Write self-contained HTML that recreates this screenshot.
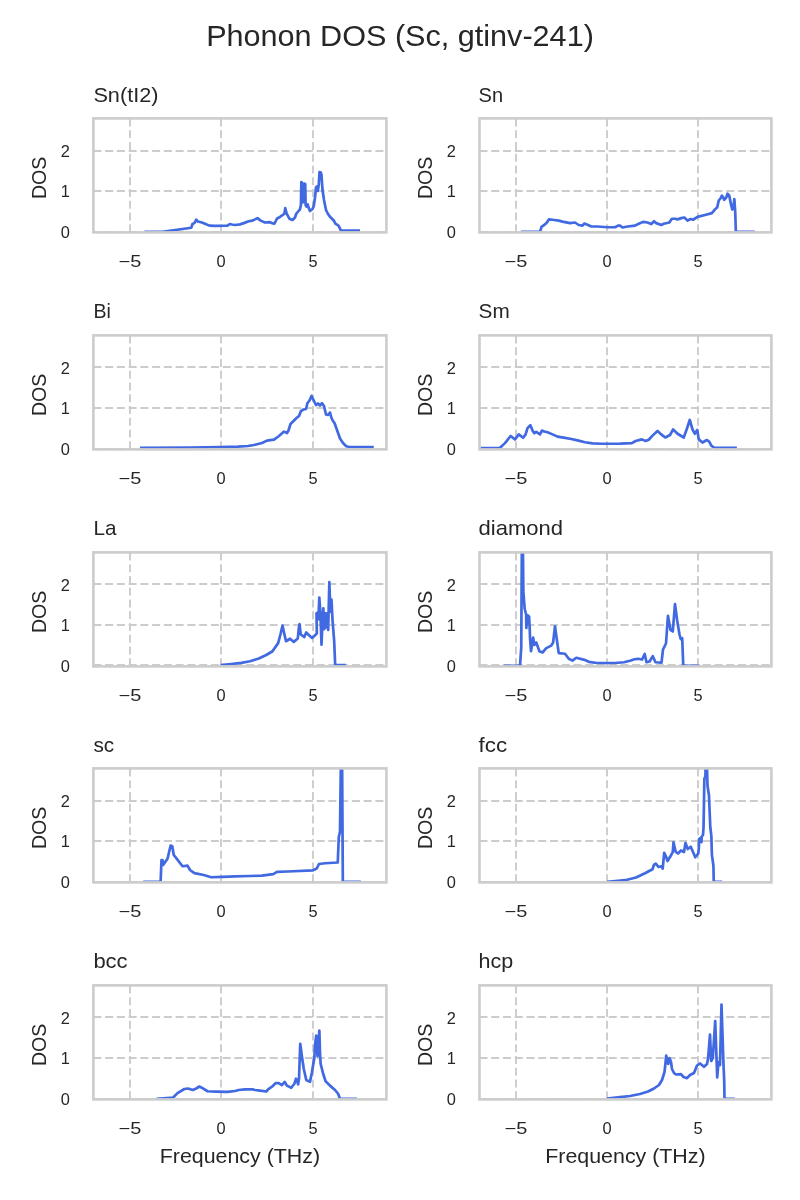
<!DOCTYPE html><html><head><meta charset="utf-8"><style>html,body{margin:0;padding:0;background:#fff;}svg{display:block;will-change:transform;}text{font-family:"Liberation Sans",sans-serif;fill:#262626;}</style></head><body>
<svg width="800" height="1200" viewBox="0 0 800 1200">
<rect width="800" height="1200" fill="#fff"/>
<text x="400" y="45.6" font-size="29.40" text-anchor="middle" textLength="387.7" lengthAdjust="spacingAndGlyphs">Phonon DOS (Sc, gtinv-241)</text>
<g stroke="#cccccc" stroke-width="1.9" stroke-dasharray="8 3.75" fill="none"><line x1="130" y1="118.4" x2="130" y2="232.4"/><line x1="221" y1="118.4" x2="221" y2="232.4"/><line x1="313" y1="118.4" x2="313" y2="232.4"/><line x1="93.4" y1="151" x2="386.4" y2="151"/><line x1="93.4" y1="191" x2="386.4" y2="191"/><line x1="93.4" y1="232" x2="386.4" y2="232"/></g>
<svg x="93.4" y="118.4" width="293" height="114" viewBox="93.4 118.4 293 114" overflow="hidden"><path d="M144.38 231.9 L162.5 231.9 L191.25 227.75 L192.5 224 L194.38 223.12 L196.25 219.75 L197.75 221.5 L201.88 222.5 L205 223.75 L209.38 225.62 L215 225.88 L227.5 225.62 L229.75 224 L231.88 224.5 L235 225 L240 224.38 L243.75 223.12 L248.75 221.25 L252.5 220.62 L257.5 218.12 L260.62 220.62 L265 222.5 L270 222.12 L271.88 223.12 L274.38 223.75 L276.88 218.75 L280 216.88 L284.38 213.75 L285.25 208.12 L286.5 213.12 L289.38 218.75 L292.5 220 L295 217.5 L296.25 213.75 L299.38 210 L299.75 210 L300.9 205 L301.35 182 L302 182.5 L302.4 202.5 L303.25 202 L304.5 183.5 L305.25 184 L305.6 205 L306.5 206.5 L307.75 204.5 L308.75 208 L310 211 L312.5 209 L313.75 206 L315 197.5 L316 187.5 L317 186.5 L317.75 191 L318.75 185 L319.5 172 L320.75 172.5 L321.5 175 L322.5 190 L324 200 L325 205 L326 210 L328 214 L330 216.75 L333.75 220.5 L335.62 223.88 L338.25 225.38 L339.75 228 L340.88 230.62 L360 230.62" fill="none" stroke="#4169e1" stroke-width="2.7" stroke-linejoin="round" stroke-linecap="butt"/></svg>
<rect x="93.4" y="118.4" width="293" height="114" fill="none" stroke="#cccccc" stroke-width="2.6"/>
<text x="93.4" y="101.8" font-size="20.40" textLength="65.1" lengthAdjust="spacingAndGlyphs">Sn(tI2)</text>
<text transform="translate(46.1 177.9) rotate(-90)" x="0" y="0" font-size="20.40" text-anchor="middle" textLength="42.3" lengthAdjust="spacingAndGlyphs">DOS</text>
<text x="69.8" y="238" font-size="16.40" text-anchor="end">0</text>
<text x="69.8" y="197.28" font-size="16.40" text-anchor="end">1</text>
<text x="69.8" y="156.56" font-size="16.40" text-anchor="end">2</text>
<text x="130" y="266.7" font-size="16.40" text-anchor="middle" textLength="22.8" lengthAdjust="spacingAndGlyphs">−5</text>
<text x="221" y="266.7" font-size="16.40" text-anchor="middle">0</text>
<text x="313" y="266.7" font-size="16.40" text-anchor="middle">5</text>
<g stroke="#cccccc" stroke-width="1.9" stroke-dasharray="8 3.75" fill="none"><line x1="516" y1="118.4" x2="516" y2="232.4"/><line x1="607" y1="118.4" x2="607" y2="232.4"/><line x1="698" y1="118.4" x2="698" y2="232.4"/><line x1="479.5" y1="151" x2="771.4" y2="151"/><line x1="479.5" y1="191" x2="771.4" y2="191"/><line x1="479.5" y1="232" x2="771.4" y2="232"/></g>
<svg x="479.5" y="118.4" width="291.9" height="114" viewBox="479.5 118.4 291.9 114" overflow="hidden"><path d="M520.94 231.9 L540 231.9 L541.5 226.88 L545 224.38 L546.88 222.5 L549 219.38 L552.5 219.75 L558.75 220.62 L562.5 221.62 L570 223.12 L575 222.5 L578.75 225 L582.5 225.62 L584.38 223.5 L587.5 224.75 L591.25 226.5 L597.5 226.5 L607.5 227.25 L615 227.25 L618.12 225.62 L620 225.62 L622.5 227.5 L627.5 226.5 L635 225.62 L638.75 223.75 L643.12 221.88 L647.5 222.5 L651.25 224.12 L654 221.25 L656.25 223.12 L661.25 225 L663.75 223.75 L669.38 222.5 L671.88 218.75 L675 218.75 L677.5 219.38 L681.25 218.12 L684.38 217.5 L687.5 220.62 L690.62 219 L693.12 219.75 L697.5 216.88 L705 215 L711.88 213.12 L715 209.38 L717.25 207.25 L718.75 200.5 L720.62 198.25 L721.9 195.62 L723.25 197.5 L724.15 199.75 L726.25 197.5 L727.6 193.75 L729.25 195.62 L731.12 205 L732.25 209.5 L733.38 207.25 L734.35 199 L735.25 212.5 L735.85 231.9 L754.75 231.9" fill="none" stroke="#4169e1" stroke-width="2.7" stroke-linejoin="round" stroke-linecap="butt"/></svg>
<rect x="479.5" y="118.4" width="291.9" height="114" fill="none" stroke="#cccccc" stroke-width="2.6"/>
<text x="478.6" y="101.8" font-size="20.40" textLength="24.5" lengthAdjust="spacingAndGlyphs">Sn</text>
<text transform="translate(432.2 177.9) rotate(-90)" x="0" y="0" font-size="20.40" text-anchor="middle" textLength="42.3" lengthAdjust="spacingAndGlyphs">DOS</text>
<text x="455.9" y="238" font-size="16.40" text-anchor="end">0</text>
<text x="455.9" y="197.28" font-size="16.40" text-anchor="end">1</text>
<text x="455.9" y="156.56" font-size="16.40" text-anchor="end">2</text>
<text x="516" y="266.7" font-size="16.40" text-anchor="middle" textLength="22.8" lengthAdjust="spacingAndGlyphs">−5</text>
<text x="607" y="266.7" font-size="16.40" text-anchor="middle">0</text>
<text x="698" y="266.7" font-size="16.40" text-anchor="middle">5</text>
<g stroke="#cccccc" stroke-width="1.9" stroke-dasharray="8 3.75" fill="none"><line x1="130" y1="335.4" x2="130" y2="449.4"/><line x1="221" y1="335.4" x2="221" y2="449.4"/><line x1="313" y1="335.4" x2="313" y2="449.4"/><line x1="93.4" y1="367" x2="386.4" y2="367"/><line x1="93.4" y1="408" x2="386.4" y2="408"/><line x1="93.4" y1="449" x2="386.4" y2="449"/></g>
<svg x="93.4" y="335.4" width="293" height="114" viewBox="93.4 335.4 293 114" overflow="hidden"><path d="M140 447.81 L190 447.6 L220 447 L238 446.6 L248 446 L254 445 L262 443 L267 440.6 L274 439.6 L279 436 L284 431.6 L287 433 L288.5 430.5 L290.5 424 L293 421.5 L296.5 418 L299 416 L301 411 L303.5 409.5 L306 409 L307.5 403 L309.5 400.5 L311.5 396 L313.5 400 L316 405 L318 403.5 L320 405.5 L322 403.2 L324 406 L326 414.5 L328 415 L330 412.5 L331.5 418 L333 421 L334.5 423 L337 430 L340 438.5 L343 443 L346.25 446.25 L349.38 447 L373.75 447.19" fill="none" stroke="#4169e1" stroke-width="2.7" stroke-linejoin="round" stroke-linecap="butt"/></svg>
<rect x="93.4" y="335.4" width="293" height="114" fill="none" stroke="#cccccc" stroke-width="2.6"/>
<text x="93.4" y="317.9" font-size="20.40" textLength="17.4" lengthAdjust="spacingAndGlyphs">Bi</text>
<text transform="translate(46.1 394.9) rotate(-90)" x="0" y="0" font-size="20.40" text-anchor="middle" textLength="42.3" lengthAdjust="spacingAndGlyphs">DOS</text>
<text x="69.8" y="455" font-size="16.40" text-anchor="end">0</text>
<text x="69.8" y="414.28" font-size="16.40" text-anchor="end">1</text>
<text x="69.8" y="373.56" font-size="16.40" text-anchor="end">2</text>
<text x="130" y="483.7" font-size="16.40" text-anchor="middle" textLength="22.8" lengthAdjust="spacingAndGlyphs">−5</text>
<text x="221" y="483.7" font-size="16.40" text-anchor="middle">0</text>
<text x="313" y="483.7" font-size="16.40" text-anchor="middle">5</text>
<g stroke="#cccccc" stroke-width="1.9" stroke-dasharray="8 3.75" fill="none"><line x1="516" y1="335.4" x2="516" y2="449.4"/><line x1="607" y1="335.4" x2="607" y2="449.4"/><line x1="698" y1="335.4" x2="698" y2="449.4"/><line x1="479.5" y1="367" x2="771.4" y2="367"/><line x1="479.5" y1="408" x2="771.4" y2="408"/><line x1="479.5" y1="449" x2="771.4" y2="449"/></g>
<svg x="479.5" y="335.4" width="291.9" height="114" viewBox="479.5 335.4 291.9 114" overflow="hidden"><path d="M480.62 448.12 L500 447.75 L505 443.12 L510.62 436 L515 439.38 L518.75 434.38 L523.12 437.75 L525.62 434.38 L527.5 428.12 L530.38 425.25 L532.5 430.62 L534.38 433.12 L536.25 431.88 L540 434.38 L541.88 430.62 L544.38 431.5 L547.5 432.25 L552.5 434.38 L557.5 436.62 L565 437.88 L571.25 439 L577.5 440.38 L585 442.25 L592.5 443.38 L601.25 443.75 L620 443.62 L631.88 443.12 L635.62 441 L641.88 439.38 L645.62 441 L648.75 439.75 L652.5 435.62 L657.5 431 L661.25 434.38 L665.25 437.5 L670 435 L673.12 429.38 L677.5 433.75 L683.75 437.5 L686.88 428.75 L689.75 420 L692.5 429.38 L694.75 433.75 L697.25 430 L698.75 439.38 L702.5 442.5 L706.88 440 L709.38 441.88 L711.25 445.62 L714.38 447.75 L736.88 447.75" fill="none" stroke="#4169e1" stroke-width="2.7" stroke-linejoin="round" stroke-linecap="butt"/></svg>
<rect x="479.5" y="335.4" width="291.9" height="114" fill="none" stroke="#cccccc" stroke-width="2.6"/>
<text x="478.6" y="317.9" font-size="20.40" textLength="31.1" lengthAdjust="spacingAndGlyphs">Sm</text>
<text transform="translate(432.2 394.9) rotate(-90)" x="0" y="0" font-size="20.40" text-anchor="middle" textLength="42.3" lengthAdjust="spacingAndGlyphs">DOS</text>
<text x="455.9" y="455" font-size="16.40" text-anchor="end">0</text>
<text x="455.9" y="414.28" font-size="16.40" text-anchor="end">1</text>
<text x="455.9" y="373.56" font-size="16.40" text-anchor="end">2</text>
<text x="516" y="483.7" font-size="16.40" text-anchor="middle" textLength="22.8" lengthAdjust="spacingAndGlyphs">−5</text>
<text x="607" y="483.7" font-size="16.40" text-anchor="middle">0</text>
<text x="698" y="483.7" font-size="16.40" text-anchor="middle">5</text>
<g stroke="#cccccc" stroke-width="1.9" stroke-dasharray="8 3.75" fill="none"><line x1="130" y1="552.4" x2="130" y2="666.4"/><line x1="221" y1="552.4" x2="221" y2="666.4"/><line x1="313" y1="552.4" x2="313" y2="666.4"/><line x1="93.4" y1="584" x2="386.4" y2="584"/><line x1="93.4" y1="625" x2="386.4" y2="625"/><line x1="93.4" y1="665" x2="386.4" y2="665"/></g>
<svg x="93.4" y="552.4" width="293" height="114" viewBox="93.4 552.4 293 114" overflow="hidden"><path d="M220.62 665 L231.25 664 L241.25 662.88 L250 661.25 L258.75 658.5 L266.25 655 L272.5 651.25 L278.12 643.12 L280.62 633.75 L282.5 625.62 L284 632.5 L286 641.25 L290 638.75 L293.75 641.88 L297.5 638.75 L297.92 637.5 L298.75 628.33 L299.58 624.17 L300.67 634.17 L304.17 637.08 L306.25 632.5 L308.75 635 L312.08 637.92 L314.58 635.83 L316.83 633.33 L316.5 613.33 L317.67 612.5 L318.33 619.17 L319.33 597.5 L320.42 613.33 L321.5 644.58 L322.5 621.67 L323.33 608.33 L324.17 629.17 L325.17 613.33 L326 627.5 L327.08 613.33 L328.17 630 L329.33 582.08 L330.42 611.67 L331.5 599.58 L332.5 620 L334.17 640.83 L335.17 665 L345.83 665" fill="none" stroke="#4169e1" stroke-width="2.7" stroke-linejoin="round" stroke-linecap="butt"/></svg>
<rect x="93.4" y="552.4" width="293" height="114" fill="none" stroke="#cccccc" stroke-width="2.6"/>
<text x="93.4" y="534.8" font-size="20.40" textLength="23.0" lengthAdjust="spacingAndGlyphs">La</text>
<text transform="translate(46.1 611.9) rotate(-90)" x="0" y="0" font-size="20.40" text-anchor="middle" textLength="42.3" lengthAdjust="spacingAndGlyphs">DOS</text>
<text x="69.8" y="672" font-size="16.40" text-anchor="end">0</text>
<text x="69.8" y="631.28" font-size="16.40" text-anchor="end">1</text>
<text x="69.8" y="590.56" font-size="16.40" text-anchor="end">2</text>
<text x="130" y="700.7" font-size="16.40" text-anchor="middle" textLength="22.8" lengthAdjust="spacingAndGlyphs">−5</text>
<text x="221" y="700.7" font-size="16.40" text-anchor="middle">0</text>
<text x="313" y="700.7" font-size="16.40" text-anchor="middle">5</text>
<g stroke="#cccccc" stroke-width="1.9" stroke-dasharray="8 3.75" fill="none"><line x1="516" y1="552.4" x2="516" y2="666.4"/><line x1="607" y1="552.4" x2="607" y2="666.4"/><line x1="698" y1="552.4" x2="698" y2="666.4"/><line x1="479.5" y1="584" x2="771.4" y2="584"/><line x1="479.5" y1="625" x2="771.4" y2="625"/><line x1="479.5" y1="665" x2="771.4" y2="665"/></g>
<svg x="479.5" y="552.4" width="291.9" height="114" viewBox="479.5 552.4 291.9 114" overflow="hidden"><path d="M503.75 665.9 L520 665.9 L521.25 647.5 L521.85 547 L522.9 547 L523.35 591.25 L524.62 608.5 L526.12 614.5 L526.35 628 L527.62 615.25 L529.12 616.75 L529.88 632.5 L530 637.5 L531 651.25 L533.12 637.5 L534.38 645 L536.25 642.5 L539.38 651.25 L542.5 652.5 L546.25 648.12 L551.25 645.62 L553.12 642.5 L555 626.25 L556.88 640 L558.75 653.12 L565 653.75 L568.75 658.75 L572.5 660.62 L576.25 657.75 L582.5 659.38 L585 660 L588.75 661.8 L597 663 L615 663 L624 662.25 L630 660.75 L634.5 659.25 L638.25 658.8 L642 659.55 L644.7 654 L646.5 662.25 L649.5 661.5 L652.8 656.25 L655.5 662.25 L661.5 662.7 L663 649.5 L666 643.5 L667.95 615.75 L670.5 630 L672.75 631.5 L675 604.2 L677.25 621 L679.5 634.5 L680.7 639 L682.2 638.25 L683.25 665.9 L699.75 665.9" fill="none" stroke="#4169e1" stroke-width="2.7" stroke-linejoin="round" stroke-linecap="butt"/></svg>
<rect x="479.5" y="552.4" width="291.9" height="114" fill="none" stroke="#cccccc" stroke-width="2.6"/>
<text x="478.6" y="534.8" font-size="20.40" textLength="84.5" lengthAdjust="spacingAndGlyphs">diamond</text>
<text transform="translate(432.2 611.9) rotate(-90)" x="0" y="0" font-size="20.40" text-anchor="middle" textLength="42.3" lengthAdjust="spacingAndGlyphs">DOS</text>
<text x="455.9" y="672" font-size="16.40" text-anchor="end">0</text>
<text x="455.9" y="631.28" font-size="16.40" text-anchor="end">1</text>
<text x="455.9" y="590.56" font-size="16.40" text-anchor="end">2</text>
<text x="516" y="700.7" font-size="16.40" text-anchor="middle" textLength="22.8" lengthAdjust="spacingAndGlyphs">−5</text>
<text x="607" y="700.7" font-size="16.40" text-anchor="middle">0</text>
<text x="698" y="700.7" font-size="16.40" text-anchor="middle">5</text>
<g stroke="#cccccc" stroke-width="1.9" stroke-dasharray="8 3.75" fill="none"><line x1="130" y1="768.4" x2="130" y2="882.4"/><line x1="221" y1="768.4" x2="221" y2="882.4"/><line x1="313" y1="768.4" x2="313" y2="882.4"/><line x1="93.4" y1="801" x2="386.4" y2="801"/><line x1="93.4" y1="841" x2="386.4" y2="841"/><line x1="93.4" y1="882" x2="386.4" y2="882"/></g>
<svg x="93.4" y="768.4" width="293" height="114" viewBox="93.4 768.4 293 114" overflow="hidden"><path d="M143.12 881.9 L160.62 881.9 L161.5 860 L162.5 860 L163.12 865 L167.5 858.75 L170.62 845.62 L172.25 846.25 L173.75 855 L176.25 858.12 L182.5 866.25 L187.5 865.62 L190 870 L194.38 873.12 L203.75 875 L211.25 877.25 L222.5 876.88 L235 876.3 L250 876 L262 875.55 L273.25 874.2 L277 871.95 L287.5 871.5 L313 870.3 L316.75 868.5 L319 864 L325 863.25 L337.75 862.5 L338.8 837 L340 831.75 L340.9 762 L342.1 762 L342.85 881.9 L360.88 881.9" fill="none" stroke="#4169e1" stroke-width="2.7" stroke-linejoin="round" stroke-linecap="butt"/></svg>
<rect x="93.4" y="768.4" width="293" height="114" fill="none" stroke="#cccccc" stroke-width="2.6"/>
<text x="93.4" y="751.8" font-size="20.40" textLength="20.7" lengthAdjust="spacingAndGlyphs">sc</text>
<text transform="translate(46.1 827.9) rotate(-90)" x="0" y="0" font-size="20.40" text-anchor="middle" textLength="42.3" lengthAdjust="spacingAndGlyphs">DOS</text>
<text x="69.8" y="888" font-size="16.40" text-anchor="end">0</text>
<text x="69.8" y="847.28" font-size="16.40" text-anchor="end">1</text>
<text x="69.8" y="806.56" font-size="16.40" text-anchor="end">2</text>
<text x="130" y="916.7" font-size="16.40" text-anchor="middle" textLength="22.8" lengthAdjust="spacingAndGlyphs">−5</text>
<text x="221" y="916.7" font-size="16.40" text-anchor="middle">0</text>
<text x="313" y="916.7" font-size="16.40" text-anchor="middle">5</text>
<g stroke="#cccccc" stroke-width="1.9" stroke-dasharray="8 3.75" fill="none"><line x1="516" y1="768.4" x2="516" y2="882.4"/><line x1="607" y1="768.4" x2="607" y2="882.4"/><line x1="698" y1="768.4" x2="698" y2="882.4"/><line x1="479.5" y1="801" x2="771.4" y2="801"/><line x1="479.5" y1="841" x2="771.4" y2="841"/><line x1="479.5" y1="882" x2="771.4" y2="882"/></g>
<svg x="479.5" y="768.4" width="291.9" height="114" viewBox="479.5 768.4 291.9 114" overflow="hidden"><path d="M607.05 881.9 L618 880.8 L627 879.75 L636 877.5 L645 873.3 L652.5 869.25 L654 864.75 L655.8 863.7 L658.5 867 L661.5 866.25 L662.7 868.5 L664.2 852.75 L666 856.5 L667.5 861 L671.25 855 L672.75 852 L673.5 842.25 L675.75 852 L678 853.5 L681 850.5 L684 852 L685.5 843 L687.75 849 L690.75 846.75 L693 852 L695.25 857.25 L698.25 853.5 L698.85 848.33 L699.17 838.96 L700.42 837.92 L701.46 842.08 L701.67 836.88 L703.02 834.79 L703.54 827.5 L704.38 778.54 L705.42 776.46 L705.62 762.92 L706.88 762.92 L707.5 785.83 L708.96 795.21 L710.31 827.5 L711.35 835.83 L711.88 854.58 L713.44 866.04 L713.75 881.9 L722.29 881.9" fill="none" stroke="#4169e1" stroke-width="2.7" stroke-linejoin="round" stroke-linecap="butt"/></svg>
<rect x="479.5" y="768.4" width="291.9" height="114" fill="none" stroke="#cccccc" stroke-width="2.6"/>
<text x="478.6" y="751.8" font-size="20.40" textLength="28.6" lengthAdjust="spacingAndGlyphs">fcc</text>
<text transform="translate(432.2 827.9) rotate(-90)" x="0" y="0" font-size="20.40" text-anchor="middle" textLength="42.3" lengthAdjust="spacingAndGlyphs">DOS</text>
<text x="455.9" y="888" font-size="16.40" text-anchor="end">0</text>
<text x="455.9" y="847.28" font-size="16.40" text-anchor="end">1</text>
<text x="455.9" y="806.56" font-size="16.40" text-anchor="end">2</text>
<text x="516" y="916.7" font-size="16.40" text-anchor="middle" textLength="22.8" lengthAdjust="spacingAndGlyphs">−5</text>
<text x="607" y="916.7" font-size="16.40" text-anchor="middle">0</text>
<text x="698" y="916.7" font-size="16.40" text-anchor="middle">5</text>
<g stroke="#cccccc" stroke-width="1.9" stroke-dasharray="8 3.75" fill="none"><line x1="130" y1="985.4" x2="130" y2="1099.4"/><line x1="221" y1="985.4" x2="221" y2="1099.4"/><line x1="313" y1="985.4" x2="313" y2="1099.4"/><line x1="93.4" y1="1017" x2="386.4" y2="1017"/><line x1="93.4" y1="1058" x2="386.4" y2="1058"/><line x1="93.4" y1="1099" x2="386.4" y2="1099"/></g>
<svg x="93.4" y="985.4" width="293" height="114" viewBox="93.4 985.4 293 114" overflow="hidden"><path d="M156.56 1098.9 L173.12 1097.5 L177.5 1093.12 L184.38 1089 L188.12 1088.5 L192.75 1090 L196.25 1088.5 L199.38 1086.5 L202.5 1088.12 L207.5 1091.25 L216.25 1091.62 L227.5 1091.88 L235 1091 L238.75 1090 L245 1089.38 L252.5 1089.38 L255 1090 L260 1090.62 L266.25 1091.5 L268.12 1089.38 L272.5 1086.25 L275.62 1083.12 L278.75 1083.12 L281.88 1085 L284.75 1081.88 L286.88 1085.62 L291.25 1087.75 L294.38 1083.75 L296 1078.75 L296.88 1080 L298.12 1084.38 L299 1078.75 L300.25 1043.75 L301.88 1056.25 L303.75 1068.75 L306.25 1080 L310 1081.88 L311.88 1072.5 L314.38 1057.5 L315 1045 L316.25 1035.62 L317.5 1056.25 L318.12 1045 L319.38 1030.62 L320 1052.5 L320.62 1063.75 L323.12 1073.75 L325.62 1081.25 L330 1085.62 L335 1090 L338.12 1093.75 L340 1098.9 L356.88 1098.75" fill="none" stroke="#4169e1" stroke-width="2.7" stroke-linejoin="round" stroke-linecap="butt"/></svg>
<rect x="93.4" y="985.4" width="293" height="114" fill="none" stroke="#cccccc" stroke-width="2.6"/>
<text x="93.4" y="967.8" font-size="20.40" textLength="34.2" lengthAdjust="spacingAndGlyphs">bcc</text>
<text transform="translate(46.1 1044.9) rotate(-90)" x="0" y="0" font-size="20.40" text-anchor="middle" textLength="42.3" lengthAdjust="spacingAndGlyphs">DOS</text>
<text x="69.8" y="1105" font-size="16.40" text-anchor="end">0</text>
<text x="69.8" y="1064.28" font-size="16.40" text-anchor="end">1</text>
<text x="69.8" y="1023.56" font-size="16.40" text-anchor="end">2</text>
<text x="130" y="1133.7" font-size="16.40" text-anchor="middle" textLength="22.8" lengthAdjust="spacingAndGlyphs">−5</text>
<text x="221" y="1133.7" font-size="16.40" text-anchor="middle">0</text>
<text x="313" y="1133.7" font-size="16.40" text-anchor="middle">5</text>
<text x="239.9" y="1163" font-size="20.40" text-anchor="middle" textLength="160.3" lengthAdjust="spacingAndGlyphs">Frequency (THz)</text>
<g stroke="#cccccc" stroke-width="1.9" stroke-dasharray="8 3.75" fill="none"><line x1="516" y1="985.4" x2="516" y2="1099.4"/><line x1="607" y1="985.4" x2="607" y2="1099.4"/><line x1="698" y1="985.4" x2="698" y2="1099.4"/><line x1="479.5" y1="1017" x2="771.4" y2="1017"/><line x1="479.5" y1="1058" x2="771.4" y2="1058"/><line x1="479.5" y1="1099" x2="771.4" y2="1099"/></g>
<svg x="479.5" y="985.4" width="291.9" height="114" viewBox="479.5 985.4 291.9 114" overflow="hidden"><path d="M607 1098.5 L620 1097.2 L630 1096 L640 1094 L648 1091.5 L654 1088.5 L659 1085 L662 1080 L664.5 1072 L665.5 1063 L666.2 1055.5 L667.2 1059 L668.2 1064 L669.5 1058 L671 1062 L672 1069 L674 1073 L676 1074.5 L681 1074.2 L683.5 1077 L687 1078.2 L690 1075 L694 1073 L697 1065.5 L700 1063.5 L704 1066.8 L707 1064 L708 1059 L710 1034.5 L711.2 1061 L712.8 1058 L715.2 1021 L717.2 1077.5 L718.5 1062 L720 1065 L721.5 1004.5 L722.5 1035 L723.5 1065 L724.2 1080 L724.5 1098.9 L735 1098.9" fill="none" stroke="#4169e1" stroke-width="2.7" stroke-linejoin="round" stroke-linecap="butt"/></svg>
<rect x="479.5" y="985.4" width="291.9" height="114" fill="none" stroke="#cccccc" stroke-width="2.6"/>
<text x="478.6" y="967.8" font-size="20.40" textLength="34.7" lengthAdjust="spacingAndGlyphs">hcp</text>
<text transform="translate(432.2 1044.9) rotate(-90)" x="0" y="0" font-size="20.40" text-anchor="middle" textLength="42.3" lengthAdjust="spacingAndGlyphs">DOS</text>
<text x="455.9" y="1105" font-size="16.40" text-anchor="end">0</text>
<text x="455.9" y="1064.28" font-size="16.40" text-anchor="end">1</text>
<text x="455.9" y="1023.56" font-size="16.40" text-anchor="end">2</text>
<text x="516" y="1133.7" font-size="16.40" text-anchor="middle" textLength="22.8" lengthAdjust="spacingAndGlyphs">−5</text>
<text x="607" y="1133.7" font-size="16.40" text-anchor="middle">0</text>
<text x="698" y="1133.7" font-size="16.40" text-anchor="middle">5</text>
<text x="625.45" y="1163" font-size="20.40" text-anchor="middle" textLength="160.3" lengthAdjust="spacingAndGlyphs">Frequency (THz)</text>
</svg></body></html>
